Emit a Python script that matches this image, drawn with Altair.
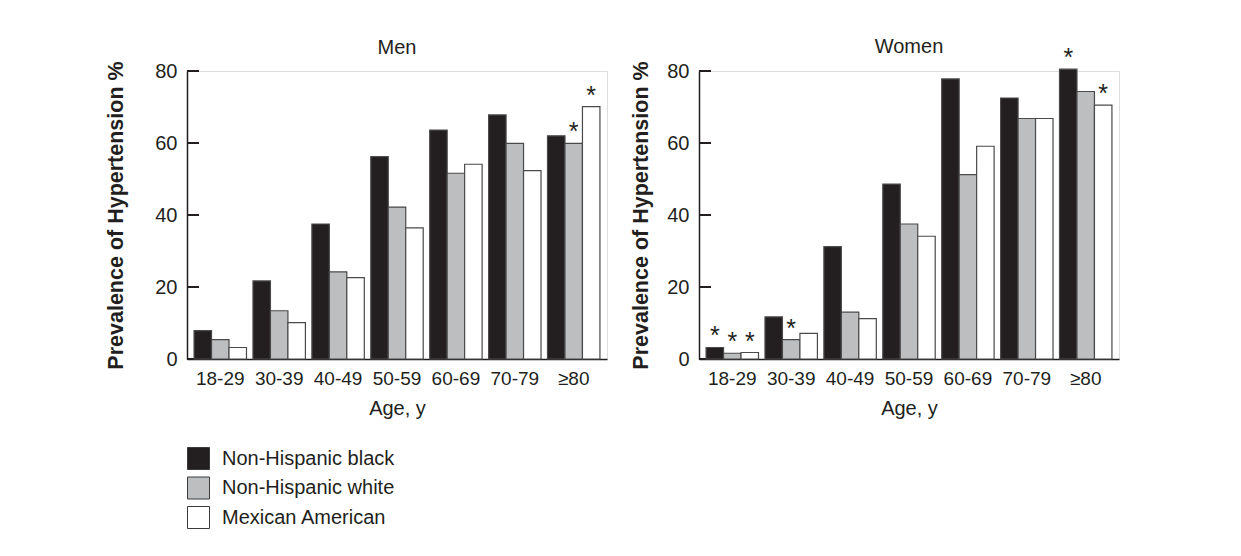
import altair as alt
import pandas as pd

ages = ["18-29", "30-39", "40-49", "50-59", "60-69", "70-79", "≥80"]
races = ["Non-Hispanic black", "Non-Hispanic white", "Mexican American"]

men_black = [7.9, 21.7, 37.5, 56.2, 63.6, 67.8, 62.0]
men_white = [5.4, 13.4, 24.2, 42.2, 51.6, 59.9, 59.9]
men_mexican = [3.2, 10.1, 22.6, 36.4, 54.1, 52.3, 70.1]

women_black = [3.2, 11.7, 31.2, 48.6, 77.8, 72.5, 80.5]
women_white = [1.6, 5.4, 13.0, 37.5, 51.2, 66.8, 74.3]
women_mexican = [1.8, 7.1, 11.2, 34.1, 59.1, 66.8, 70.5]

# significance markers (1 = asterisk)
men_star_black = [0, 0, 0, 0, 0, 0, 0]
men_star_white = [0, 0, 0, 0, 0, 0, 1]
men_star_mexican = [0, 0, 0, 0, 0, 0, 1]
women_star_black = [1, 0, 0, 0, 0, 0, 1]
women_star_white = [1, 1, 0, 0, 0, 0, 0]
women_star_mexican = [1, 0, 0, 0, 0, 0, 1]

y_ticks = [0, 20, 40, 60, 80]

colors = ["#231f20", "#bcbec0", "#ffffff"]
FONT = "Liberation Sans"


def build(vals, stars):
    rows = []
    for r, v, s in zip(races, vals, stars):
        for a, vv, ss in zip(ages, v, s):
            rows.append({"age": a, "race": r, "value": vv, "star": ss})
    return pd.DataFrame(rows)


men_df = build([men_black, men_white, men_mexican],
               [men_star_black, men_star_white, men_star_mexican])
women_df = build([women_black, women_white, women_mexican],
                 [women_star_black, women_star_white, women_star_mexican])
tick_df = pd.DataFrame({"t": y_ticks})


def panel(df, title, title_pad, title_offset, show_legend):
    xenc = alt.X("age:N", sort=ages,
                 scale=alt.Scale(paddingInner=0.11, paddingOuter=0.12),
                 axis=alt.Axis(title="Age, y", labelAngle=0, tickSize=0,
                               labelPadding=10, labelFontSize=19,
                               titleFontSize=20, titleFontWeight="normal",
                               titlePadding=10, domainColor="#231f20",
                               domainWidth=1.5, labelColor="#231f20",
                               titleColor="#231f20", labelFont=FONT,
                               titleFont=FONT))
    xoff = alt.XOffset("race:N", sort=races,
                       scale=alt.Scale(paddingInner=0, paddingOuter=0))
    yenc = alt.Y("value:Q",
                 scale=alt.Scale(domain=[0, 80], nice=False),
                 axis=alt.Axis(title="Prevalence of Hypertension %",
                               values=y_ticks, tickSize=0, grid=False,
                               labelPadding=10, labelFontSize=20,
                               titleFontSize=21.5, titleFontWeight="bold",
                               titlePadding=title_pad,
                               domainColor="#231f20", domainWidth=1.5,
                               labelColor="#231f20", titleColor="#231f20",
                               labelFont=FONT, titleFont=FONT))
    if show_legend:
        leg = alt.Legend(title=None, orient="none", legendX=0, legendY=376,
                         symbolType="square", symbolSize=484,
                         symbolStrokeColor="#3a3a3a", symbolStrokeWidth=1,
                         labelFontSize=20, labelFont=FONT, labelLimit=500,
                         labelColor="#231f20", labelOffset=12,
                         rowPadding=2.5, padding=0)
    else:
        leg = None
    cenc = alt.Color("race:N", sort=races,
                     scale=alt.Scale(domain=races, range=colors),
                     legend=leg)

    base = alt.Chart(df)
    ticks = alt.Chart(tick_df).mark_rule(color="#231f20", strokeWidth=2).encode(
        y=alt.Y("t:Q"), x=alt.value(0), x2=alt.value(12))
    bars = base.mark_bar(stroke="#4a4a4a", strokeWidth=1.2).encode(
        x=xenc, xOffset=xoff, y=yenc, color=cenc)
    stars_l = base.transform_filter(alt.datum.star == 1).mark_text(
        text="*", fontSize=25, font=FONT, baseline="alphabetic", dy=-3,
        color="#231f20").encode(x=alt.X("age:N", sort=ages), xOffset=xoff,
                                y=alt.Y("value:Q"))
    return alt.layer(ticks, bars, stars_l).properties(
        width=420, height=288,
        title=alt.TitleParams(title, fontSize=20, font=FONT,
                              fontWeight="normal", color="#231f20",
                              anchor="middle", offset=title_offset,
                              frame="group"))


men = panel(men_df, "Men", 27, 3, True)
women = panel(women_df, "Women", 14, -11, False)

chart = alt.hconcat(men, women, spacing=22).resolve_legend(
    color="independent").resolve_scale(color="independent").properties(
    padding={"left": 97, "top": 28, "right": 5, "bottom": 5}
).configure_view(strokeWidth=0, stroke="transparent").configure(background="white")

chart.save("out.html", embed_options={"renderer": "svg", "actions": False})
